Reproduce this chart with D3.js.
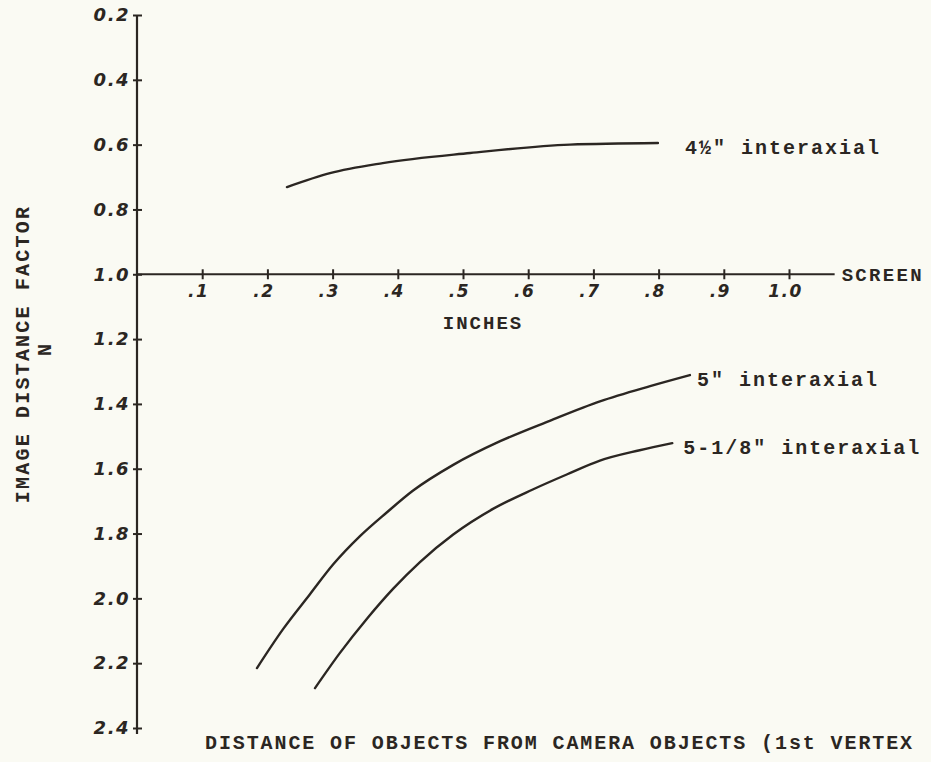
<!DOCTYPE html>
<html>
<head>
<meta charset="utf-8">
<script src="https://cdn.jsdelivr.net/npm/d3@7"></script>
<style>
  html, body { margin: 0; padding: 0; background: #fafaf3; }
  svg { display: block; }
  .mono { font-family: "Liberation Mono", "DejaVu Sans Mono", monospace; font-weight: bold; fill: #2b2622; }
  .hand { font-family: "DejaVu Sans", sans-serif; font-style: oblique; font-weight: bold; fill: #2b2622; }
</style>
</head>
<body>
<svg id="chart" width="931" height="762"></svg>
<script>
// ---- data ----
const yTickValues = [0.2, 0.4, 0.6, 0.8, 1.0, 1.2, 1.4, 1.6, 1.8, 2.0, 2.2, 2.4];
const yTickLabels = ["0.2", "0.4", "0.6", "0.8", "1.0", "1.2", "1.4", "1.6", "1.8", "2.0", "2.2", "2.4"];
const xTickValues = [0.1, 0.2, 0.3, 0.4, 0.5, 0.6, 0.7, 0.8, 0.9, 1.0];
const xTickLabels = [".1", ".2", ".3", ".4", ".5", ".6", ".7", ".8", ".9", "1.0"];

const seriesNames = ["4\u00bd\" interaxial", "5\" interaxial", "5-1/8\" interaxial"];
const series45x = [0.230, 0.296, 0.377, 0.511, 0.664, 0.799];
const series45y = [0.731, 0.688, 0.657, 0.626, 0.600, 0.595];
const series5x  = [0.184, 0.224, 0.265, 0.301, 0.342, 0.383, 0.423, 0.485, 0.557, 0.633, 0.710, 0.787, 0.848];
const series5y  = [2.215, 2.095, 1.988, 1.895, 1.808, 1.735, 1.668, 1.588, 1.515, 1.452, 1.392, 1.345, 1.311];
const series518x = [0.273, 0.311, 0.353, 0.393, 0.434, 0.485, 0.546, 0.607, 0.660, 0.710, 0.771, 0.821];
const series518y = [2.277, 2.169, 2.062, 1.970, 1.888, 1.803, 1.724, 1.664, 1.617, 1.575, 1.543, 1.521];

const yTitle = "IMAGE DISTANCE FACTOR";
const yTitle2 = "N";
const xUnit = "INCHES";
const xEnd = "SCREEN";
const xTitle = "DISTANCE OF OBJECTS FROM CAMERA OBJECTS (1st VERTEX";

// ---- layout ----
const ink = "#2b2622";
const svg = d3.select("#chart");
const x = d3.scaleLinear().domain([0, 1]).range([137, 789]);
const y = d3.scaleLinear().domain([0.2, 2.4]).range([15, 728]);

// y axis
const yAxis = d3.axisLeft(y).tickValues(yTickValues)
  .tickFormat((d, i) => yTickLabels[i]).tickSizeOuter(0).tickSizeInner(4).tickPadding(3);
const gy = svg.append("g").attr("transform", `translate(${x(0)},0)`).call(yAxis);
gy.select(".domain").remove();
gy.selectAll(".tick line").attr("x1", 5).attr("x2", -4).attr("stroke", ink).attr("stroke-width", 2);
gy.selectAll(".tick text").attr("class", "hand").attr("font-size", 18).attr("letter-spacing", 1.5)
  .attr("fill", ink);
svg.append("line").attr("x1", x(0)).attr("x2", x(0)).attr("y1", y(0.2)).attr("y2", y(2.4) + 6)
  .attr("stroke", ink).attr("stroke-width", 2.2);

// x axis (at N = 1.0)
const xAxis = d3.axisBottom(x).tickValues(xTickValues)
  .tickFormat((d, i) => xTickLabels[i]).tickSizeOuter(0).tickSizeInner(5).tickPadding(6);
const gx = svg.append("g").attr("transform", `translate(0,${y(1.0)})`).call(xAxis);
gx.select(".domain").remove();
gx.selectAll(".tick line").attr("y1", -5).attr("y2", 5).attr("stroke", ink).attr("stroke-width", 2);
gx.selectAll(".tick text").attr("class", "hand").attr("font-size", 17).attr("letter-spacing", 1.5)
  .attr("fill", ink).attr("dx", -4);
svg.append("line").attr("x1", x(0)).attr("x2", x(1.07)).attr("y1", y(1.0)).attr("y2", y(1.0))
  .attr("stroke", ink).attr("stroke-width", 2);

// curves
const line = d3.line().x(d => x(d[0])).y(d => y(d[1])).curve(d3.curveMonotoneX);
const allSeries = [
  { xs: series45x, ys: series45y, name: seriesNames[0], dx: 27, dy: 5 },
  { xs: series5x, ys: series5y, name: seriesNames[1], dx: 7, dy: 5 },
  { xs: series518x, ys: series518y, name: seriesNames[2], dx: 11, dy: 5 }
];
allSeries.forEach(s => {
  const pts = s.xs.map((v, i) => [v, s.ys[i]]);
  svg.append("path").datum(pts).attr("d", line)
    .attr("fill", "none").attr("stroke", ink).attr("stroke-width", 2.4)
    .attr("stroke-linecap", "round");
  const last = pts[pts.length - 1];
  svg.append("text").attr("class", "mono").attr("font-size", 20).attr("letter-spacing", 2)
    .attr("x", x(last[0]) + s.dx).attr("y", y(last[1]) + s.dy + 6)
    .text(s.name);
});

// titles
svg.append("text").attr("class", "mono").attr("font-size", 20).attr("letter-spacing", 2.2)
  .attr("text-anchor", "middle")
  .attr("transform", `translate(29,354) rotate(-90)`).text(yTitle);
svg.append("text").attr("class", "mono").attr("font-size", 20)
  .attr("text-anchor", "middle")
  .attr("transform", `translate(51,350) rotate(-90)`).text(yTitle2);
svg.append("text").attr("class", "mono").attr("font-size", 19).attr("letter-spacing", 2)
  .attr("text-anchor", "middle").attr("x", 483).attr("y", 329).text(xUnit);
svg.append("text").attr("class", "mono").attr("font-size", 19).attr("letter-spacing", 2.3)
  .attr("x", x(1.07) + 7).attr("y", y(1.0) + 7).text(xEnd);
svg.append("text").attr("class", "mono").attr("font-size", 20).attr("letter-spacing", 1.9)
  .attr("x", 205).attr("y", 749).text(xTitle);
</script>
</body>
</html>
